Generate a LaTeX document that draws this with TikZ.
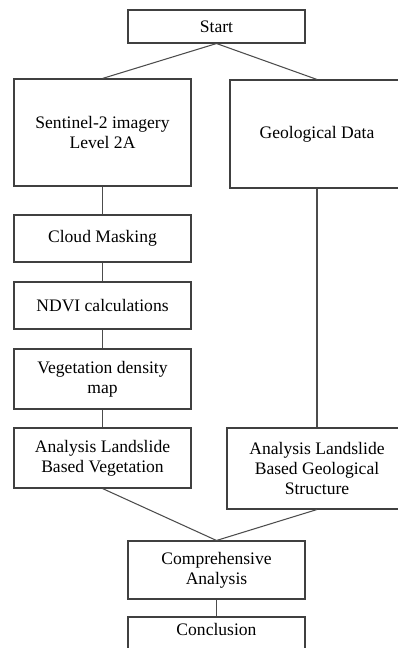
\documentclass[tikz,border=0pt]{standalone}
\usepackage{fontspec}
\setmainfont{Liberation Serif}
\usetikzlibrary{positioning}

\tikzset{
    box/.style={draw=black!75, line width=0.6pt, rectangle, align=center,
        inner sep=0pt, font=\fontsize{10}{11.5}\selectfont},
    link/.style={draw=black!70, line width=0.6pt}
}

\begin{document}
\begin{tikzpicture}[x=0.02cm, y=-0.02cm]
                \useasboundingbox (0,0) rectangle (397,648);

                \node[box, minimum width=177*0.02cm, minimum height=33*0.02cm] (start) at (216.5,26.5) {Start};
                \node[box, minimum width=177*0.02cm, minimum height=107*0.02cm] (sen) at (102.5,132.5) {Sentinel-2 imagery\\Level 2A};
                \node[box, minimum width=174*0.02cm, minimum height=108*0.02cm] (geo) at (317,134) {Geological Data};
                \node[box, minimum width=177*0.02cm, minimum height=47*0.02cm] (cloud) at (102.5,238.5) {Cloud Masking};
                \node[box, minimum width=177*0.02cm, minimum height=47*0.02cm] (ndvi) at (102.5,305.5) {NDVI calculations};
                \node[box, minimum width=177*0.02cm, minimum height=60*0.02cm] (veg) at (102.5,379) {Vegetation density\\map};
                \node[box, minimum width=177*0.02cm, minimum height=60*0.02cm] (anveg) at (102.5,458) {Analysis Landslide\\Based Vegetation};
                \node[box, minimum width=180*0.02cm, minimum height=81*0.02cm] (angeo) at (317,468.5) {Analysis Landslide\\Based Geological\\Structure};
                \node[box, minimum width=177*0.02cm, minimum height=58*0.02cm] (comp) at (216.5,570) {Comprehensive\\Analysis};
                \node[box, minimum width=177*0.02cm, minimum height=38*0.02cm, text depth=8pt] (concl) at (216.5,636) {Conclusion};

                % connectors
                \draw[link] (start.south) -- (sen.north);
                \draw[link] (start.south) -- (geo.north);
                \draw[link] (sen) -- (cloud);
                \draw[link] (cloud) -- (ndvi);
                \draw[link] (ndvi) -- (veg);
                \draw[link] (veg) -- (anveg);
                \draw[link] (geo) -- (angeo);
                \draw[link] (anveg.south) -- (comp.north);
                \draw[link] (angeo.south) -- (comp.north);
                \draw[link] (comp) -- (concl);
            \end{tikzpicture}
\end{document}
